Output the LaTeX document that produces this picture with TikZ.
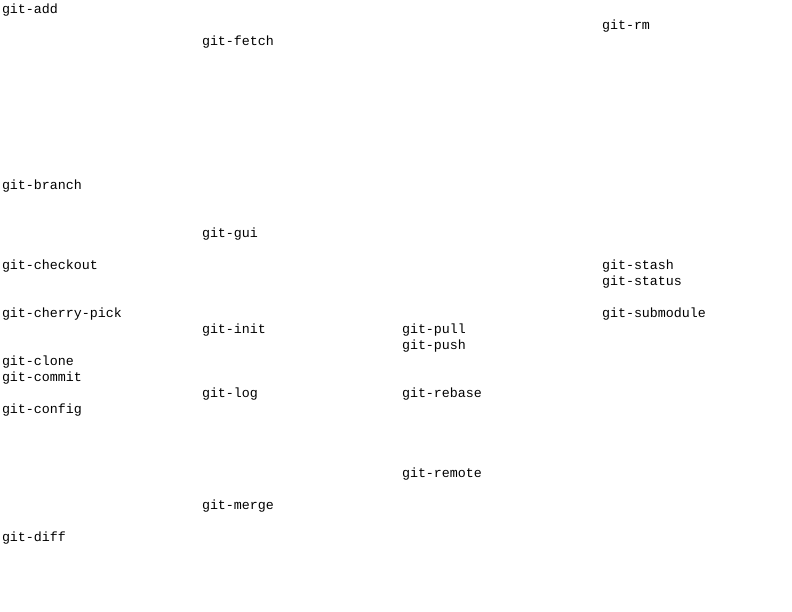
\documentclass[tikz,border=0pt]{standalone}
\usepackage{fontspec}
\setmonofont{Liberation Mono}
\begin{document}
\begin{tikzpicture}[x=1pt,y=-1pt,
  cmd/.style={anchor=base west,inner sep=0pt,outer sep=0pt,font=\ttfamily\fontsize{13.33}{16}\selectfont}]
\useasboundingbox (0,0) rectangle (792,611);
\node[cmd] (add) at (2,13.5) {git-add};
\node[cmd] (rm) at (602,29.5) {git-rm};
\node[cmd] (fetch) at (202,45.5) {git-fetch};
\node[cmd] (branch) at (2,189.5) {git-branch};
\node[cmd] (gui) at (202,237.5) {git-gui};
\node[cmd] (checkout) at (2,269.5) {git-checkout};
\node[cmd] (stash) at (602,269.5) {git-stash};
\node[cmd] (status) at (602,285.5) {git-status};
\node[cmd] (cherry) at (2,317.5) {git-cherry-pick};
\node[cmd] (submodule) at (602,317.5) {git-submodule};
\node[cmd] (init) at (202,333.5) {git-init};
\node[cmd] (pull) at (402,333.5) {git-pull};
\node[cmd] (push) at (402,349.5) {git-push};
\node[cmd] (clone) at (2,365.5) {git-clone};
\node[cmd] (commit) at (2,381.5) {git-commit};
\node[cmd] (log) at (202,397.5) {git-log};
\node[cmd] (rebase) at (402,397.5) {git-rebase};
\node[cmd] (config) at (2,413.5) {git-config};
\node[cmd] (remote) at (402,477.5) {git-remote};
\node[cmd] (merge) at (202,509.5) {git-merge};
\node[cmd] (diff) at (2,541.5) {git-diff};
\end{tikzpicture}
\end{document}
